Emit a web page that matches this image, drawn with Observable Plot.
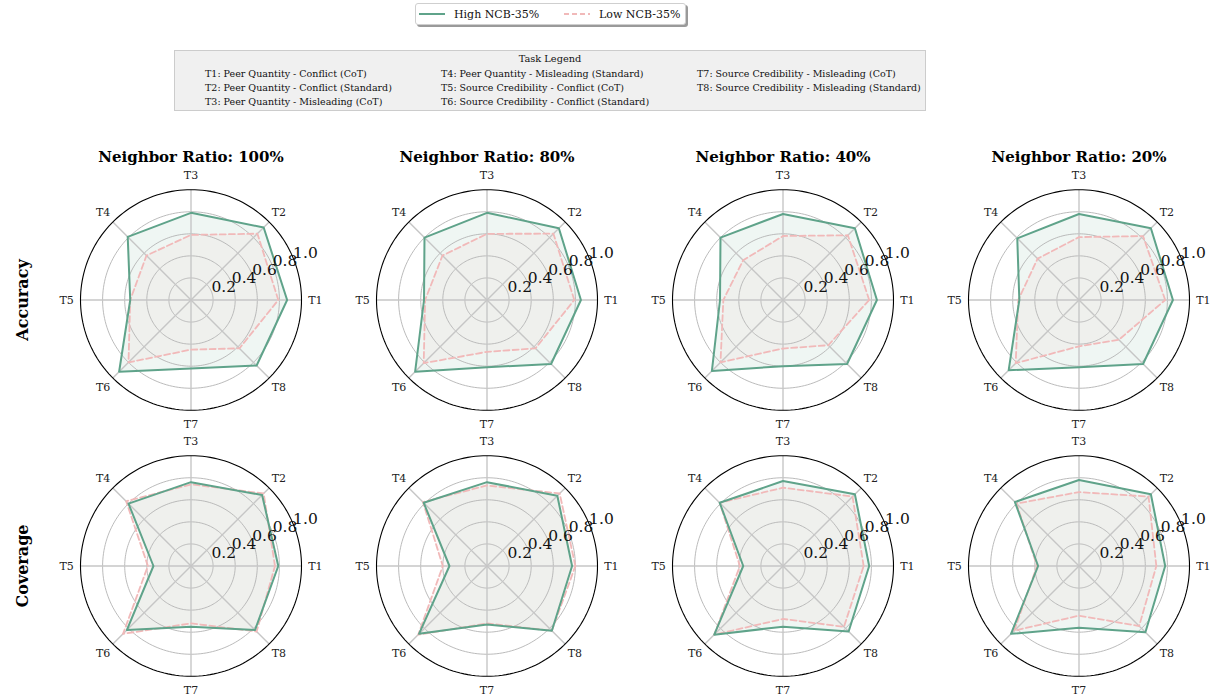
<!DOCTYPE html>
<html>
<head>
<meta charset="utf-8">
<script src="https://cdn.jsdelivr.net/npm/d3@7"></script>
<script src="https://cdn.jsdelivr.net/npm/@observablehq/plot@0.6"></script>
<style>
  html, body { margin: 0; padding: 0; background: #fff; }
  #wrap { position: relative; width: 1221px; height: 698px; overflow: hidden; font-family: "DejaVu Serif", serif; }
  #legend { position: absolute; left: 415px; top: 3px; width: 271px; height: 22px; background: #fff;
    border: 1px solid #cfcfcf; border-radius: 3px; box-shadow: 2px 2px 0 #9a9a9a;
    font-size: 11px; color: #111; box-sizing: border-box; white-space: nowrap; }
  #legend .item { position: absolute; top: 0; height: 20px; display: flex; align-items: center; white-space: nowrap; }
  #legend svg { margin-right: 9px; }
  #tasks { position: absolute; left: 174px; top: 50px; width: 752px; height: 61px; background: #f0f0f0;
    border: 1px solid #cccccc; box-sizing: border-box; font-size: 9.5px; color: #111; }
  #tasks .title { position: absolute; top: 2px; width: 100%; text-align: center; font-size: 9.8px; }
  #tasks .col { position: absolute; top: 16px; line-height: 14px; white-space: nowrap; }
  #chart { position: absolute; left: 0; top: 120px; }
</style>
</head>
<body>
<div id="wrap">
  <div id="legend"></div>
  <div id="tasks"></div>
  <div id="chart"></div>
</div>
<script>
// ---- data ----
const tasks = ["T1", "T2", "T3", "T4", "T5", "T6", "T7", "T8"];
const taskNames = [
  "T1: Peer Quantity - Conflict (CoT)",
  "T2: Peer Quantity - Conflict (Standard)",
  "T3: Peer Quantity - Misleading (CoT)",
  "T4: Peer Quantity - Misleading (Standard)",
  "T5: Source Credibility - Conflict (CoT)",
  "T6: Source Credibility - Conflict (Standard)",
  "T7: Source Credibility - Misleading (CoT)",
  "T8: Source Credibility - Misleading (Standard)"
];
const ratios = ["Neighbor Ratio: 100%", "Neighbor Ratio: 80%", "Neighbor Ratio: 40%", "Neighbor Ratio: 20%"];
const metrics = ["Accuracy", "Coverage"];
const seriesNames = ["High NCB-35%", "Low NCB-35%"];
const radialTicks = [0.2, 0.4, 0.6, 0.8, 1.0];

const acc100High = [0.87, 0.93, 0.79, 0.81, 0.55, 0.92, 0.62, 0.84];
const acc100Low  = [0.79, 0.85, 0.59, 0.57, 0.55, 0.80, 0.45, 0.62];
const acc80High  = [0.85, 0.92, 0.79, 0.80, 0.57, 0.92, 0.61, 0.82];
const acc80Low   = [0.79, 0.85, 0.60, 0.57, 0.56, 0.81, 0.47, 0.62];
const acc40High  = [0.85, 0.92, 0.78, 0.80, 0.57, 0.91, 0.60, 0.82];
const acc40Low   = [0.78, 0.83, 0.58, 0.51, 0.54, 0.80, 0.44, 0.58];
const acc20High  = [0.85, 0.92, 0.78, 0.79, 0.54, 0.90, 0.61, 0.82];
const acc20Low   = [0.78, 0.82, 0.57, 0.53, 0.55, 0.81, 0.42, 0.51];
const cov100High = [0.79, 0.91, 0.76, 0.80, 0.34, 0.82, 0.55, 0.82];
const cov100Low  = [0.76, 0.93, 0.74, 0.83, 0.39, 0.87, 0.52, 0.84];
const cov80High  = [0.77, 0.90, 0.76, 0.81, 0.34, 0.87, 0.53, 0.83];
const cov80Low   = [0.80, 0.93, 0.73, 0.82, 0.40, 0.88, 0.52, 0.83];
const cov40High  = [0.78, 0.92, 0.77, 0.81, 0.36, 0.88, 0.55, 0.84];
const cov40Low   = [0.73, 0.89, 0.71, 0.81, 0.39, 0.88, 0.48, 0.78];
const cov20High  = [0.78, 0.92, 0.78, 0.82, 0.37, 0.87, 0.56, 0.85];
const cov20Low   = [0.70, 0.89, 0.67, 0.80, 0.38, 0.83, 0.45, 0.77];

const highColor = "#5fa38a";
const lowColor = "#f1b9b9";

// ---- build table ----
const panels = [
  ["Accuracy", ratios[0], acc100High, acc100Low],
  ["Accuracy", ratios[1], acc80High, acc80Low],
  ["Accuracy", ratios[2], acc40High, acc40Low],
  ["Accuracy", ratios[3], acc20High, acc20Low],
  ["Coverage", ratios[0], cov100High, cov100Low],
  ["Coverage", ratios[1], cov80High, cov80Low],
  ["Coverage", ratios[2], cov40High, cov40Low],
  ["Coverage", ratios[3], cov20High, cov20Low]
];
const angleOf = i => (i * Math.PI) / 4;
const rows = [];
for (const [metric, ratio, hi, lo] of panels) {
  [hi, lo].forEach((vals, s) => {
    vals.forEach((v, i) => {
      rows.push({metric, ratio, series: seriesNames[s], task: tasks[i], value: v,
        px: v * Math.cos(angleOf(i)), py: v * Math.sin(angleOf(i))});
    });
  });
}
const highRows = rows.filter(d => d.series === seriesNames[0]);
const lowRows = rows.filter(d => d.series === seriesNames[1]);

// grid rings (axis geometry derived from tick values)
const ring = [];
for (const t of radialTicks) {
  for (let k = 0; k < 180; k++) {
    const a = (k / 180) * 2 * Math.PI;
    ring.push({t, x: t * Math.cos(a), y: t * Math.sin(a)});
  }
}
const spokes = tasks.map((t, i) => ({task: t, x: Math.cos(angleOf(i)), y: Math.sin(angleOf(i))}));
const labelAngle = Math.PI / 8;

// ---- layout ----
const pxPerUnit = 110.5;
const bandW = 237, bandH = 239.4;
const xr = (bandW / 2) / pxPerUnit, yr = (bandH / 2) / pxPerUnit;
const serif = "DejaVu Serif";

const plot = Plot.plot({
  width: 1221,
  height: 578,
  marginTop: 60.3,
  marginBottom: 12.3,
  marginLeft: 71.5,
  marginRight: 24,
  style: {fontFamily: serif, background: "transparent", overflow: "visible"},
  fx: {domain: ratios, paddingInner: 0.2, paddingOuter: 0, axis: null},
  fy: {domain: metrics, paddingInner: 0.1, paddingOuter: 0, axis: null},
  x: {domain: [-xr, xr], axis: null},
  y: {domain: [-yr, yr], axis: null},
  color: {domain: seriesNames, range: [highColor, lowColor]},
  marks: [
    // fills
    Plot.line(highRows, {x: "px", y: "py", fx: "ratio", fy: "metric", curve: "linear-closed",
      fill: highColor, fillOpacity: 0.1, stroke: "none"}),
    Plot.line(lowRows, {x: "px", y: "py", fx: "ratio", fy: "metric", curve: "linear-closed",
      fill: lowColor, fillOpacity: 0.1, stroke: "none"}),
    // grid
    Plot.line(ring.filter(d => d.t < 1), {x: "x", y: "y", z: "t", curve: "linear-closed",
      stroke: "#b3b3b3", strokeWidth: 0.9}),
    Plot.link(spokes, {x1: 0, y1: 0, x2: "x", y2: "y", stroke: "#c6c6c6", strokeWidth: 1.4}),
    Plot.line(ring.filter(d => d.t === 1), {x: "x", y: "y", z: "t", curve: "linear-closed",
      stroke: "#000", strokeWidth: 1.1}),
    // series lines
    Plot.line(lowRows, {x: "px", y: "py", fx: "ratio", fy: "metric", curve: "linear-closed",
      stroke: "series", strokeWidth: 1.8, strokeDasharray: "6,3.2"}),
    Plot.line(highRows, {x: "px", y: "py", fx: "ratio", fy: "metric", curve: "linear-closed",
      stroke: "series", strokeWidth: 2}),
    // task labels
    Plot.text(spokes, {x: d => d.x * 1.125, y: d => d.y * 1.125, text: "task", fontSize: 11,
      fill: "#222"}),
    // radial tick labels
    Plot.text(radialTicks, {x: d => d * Math.cos(labelAngle), y: d => d * Math.sin(labelAngle),
      text: d => d.toFixed(1), textAnchor: "start", lineAnchor: "bottom", fontSize: 15.5, fill: "#111"}),
    // column titles
    Plot.text(ratios, {fx: d => d, fy: () => "Accuracy", x: 0, y: 143 / pxPerUnit, text: d => d,
      fontSize: 15, fontWeight: "bold", fill: "#000"}),
    // row titles
    Plot.text(metrics, {fy: d => d, fx: () => ratios[0], x: (22 - 190) / pxPerUnit, y: 0, text: d => d,
      rotate: -90, fontSize: 16, fontWeight: "bold", fill: "#000"})
  ]
});
document.getElementById("chart").appendChild(plot);

// ---- series legend ----
const legend = document.getElementById("legend");
const itemLeft = [3, 148];
seriesNames.forEach((name, s) => {
  const item = document.createElement("div");
  item.className = "item";
  item.style.left = itemLeft[s] + "px";
  const color = s === 0 ? highColor : lowColor;
  const dash = s === 0 ? "" : ' stroke-dasharray="5,3"';
  item.innerHTML = `<svg width="26" height="10"><line x1="0" y1="5" x2="26" y2="5" stroke="${color}" stroke-width="2"${dash}/></svg><span>${name}</span>`;
  legend.appendChild(item);
});

// ---- task legend ----
const tbox = document.getElementById("tasks");
const tt = document.createElement("div");
tt.className = "title";
tt.textContent = "Task Legend";
tbox.appendChild(tt);
const colX = [30, 266, 522];
[[0, 1, 2], [3, 4, 5], [6, 7]].forEach((idx, c) => {
  const col = document.createElement("div");
  col.className = "col";
  col.style.left = colX[c] + "px";
  col.innerHTML = idx.map(i => taskNames[i]).join("<br>");
  tbox.appendChild(col);
});
</script>
</body>
</html>
